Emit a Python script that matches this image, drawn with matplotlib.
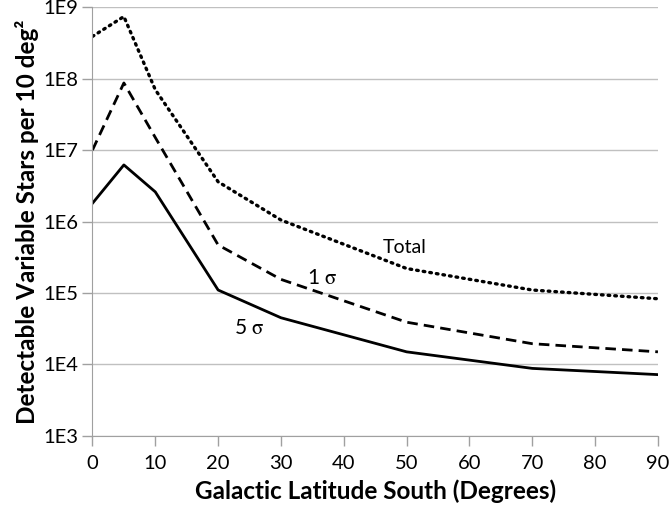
import matplotlib
matplotlib.use('Agg')
import matplotlib.pyplot as plt
from matplotlib.ticker import FixedLocator, NullLocator

# galactic latitude (deg) and detectable variable stars per 10 deg^2
latitude = [0, 5, 10, 20, 30, 50, 70, 90]
total = [3.9e8, 7.4e8, 7.0e7, 3.6e6, 1.05e6, 2.2e5, 1.1e5, 8.3e4]
sigma1 = [1.0e7, 8.7e7, 1.5e7, 4.7e5, 1.55e5, 3.9e4, 1.95e4, 1.5e4]
sigma5 = [1.8e6, 6.2e6, 2.6e6, 1.1e5, 4.5e4, 1.5e4, 8.8e3, 7.2e3]

xticks = list(range(0, 91, 10))
yticks = [1e3, 1e4, 1e5, 1e6, 1e7, 1e8, 1e9]
ytick_labels = ['1E3', '1E4', '1E5', '1E6', '1E7', '1E8', '1E9']

plt.rcParams['font.family'] = ['Lato', 'DejaVu Sans']
plt.rcParams['mathtext.fontset'] = 'stix'

fig = plt.figure(figsize=(6.7, 5.14), dpi=100)
ax = fig.add_axes([0.138, 0.152, 0.844, 0.834])

ax.plot(latitude, total, color='black', lw=2.4, linestyle=(0, (0.5, 1.5)),
        dash_capstyle='round')
ax.plot(latitude, sigma1, color='black', lw=2.0, linestyle=(0, (3.8, 2.2)))
ax.plot(latitude, sigma5, color='black', lw=2.0)

ax.set_yscale('log')
ax.set_xlim(0, 90)
ax.set_ylim(1e3, 1e9)
ax.yaxis.set_major_locator(FixedLocator(yticks))
ax.yaxis.set_minor_locator(NullLocator())
ax.set_yticklabels(ytick_labels)
ax.set_xticks(xticks)

ax.grid(axis='y', color='#c0c0c0', lw=1)
ax.set_axisbelow(True)
for side in ['top', 'right']:
    ax.spines[side].set_visible(False)
for side in ['left', 'bottom']:
    ax.spines[side].set_color('#a0a0a0')
ax.tick_params(axis='both', colors='#a0a0a0', labelcolor='black',
               labelsize=14.5, length=7, width=1)
ax.tick_params(axis='x', pad=7)

ax.set_xlabel('Galactic Latitude South (Degrees)', fontsize=17.5,
              fontweight='bold', labelpad=5)
ax.set_ylabel('Detectable Variable Stars per 10 deg²', fontsize=17.5,
              fontweight='bold', labelpad=3)

ax.text(49.7, 10**5.63, 'Total', fontsize=14, ha='center', va='center')
ax.text(36.5, 10**5.21, '1 $\\mathrm{\\sigma}$', fontsize=15, ha='center', va='center')
ax.text(24.9, 10**4.51, '5 $\\mathrm{\\sigma}$', fontsize=15, ha='center', va='center')

fig.savefig('out.png', dpi=100)
